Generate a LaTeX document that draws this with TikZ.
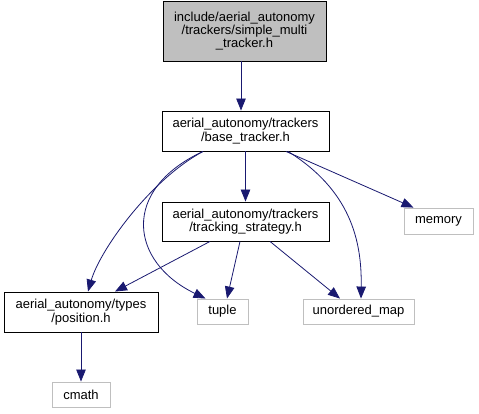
\documentclass[tikz,border=0pt]{standalone}
\usepackage{fontspec}
\setmainfont{Liberation Sans}
\usetikzlibrary{arrows.meta}
\definecolor{edgeblue}{HTML}{191970}
\definecolor{extgray}{HTML}{BFBFBF}
\tikzset{
  box/.style={draw=black, line width=0.9pt, inner sep=0pt, align=center, font=\fontsize{13}{13.3}\selectfont},
  extbox/.style={draw=extgray, line width=0.9pt, inner sep=0pt, align=center, font=\fontsize{13}{13.3}\selectfont},
  dep/.style={draw=edgeblue, line width=0.8pt, -{Triangle[length=12pt,width=9.5pt]}, edgeblue}
}
\begin{document}
\begin{tikzpicture}[x=1pt,y=-1pt]
\useasboundingbox (0,0) rectangle (479,413);
\node[box, fill=extgray, minimum width=163, minimum height=60] (top) at (244.5,31) {include/aerial\_autonomy\\/trackers/simple\_multi\\\_tracker.h};
\node[box, minimum width=167, minimum height=40] (base) at (245.5,131) {aerial\_autonomy/trackers\\/base\_tracker.h};
\node[box, minimum width=167, minimum height=39] (track) at (245.5,221.5) {aerial\_autonomy/trackers\\/tracking\_strategy.h};
\node[extbox, minimum width=69, minimum height=26] (memory) at (438.5,221) {memory};
\node[box, minimum width=154, minimum height=40] (pos) at (81,312) {aerial\_autonomy/types\\/position.h};
\node[extbox, minimum width=51, minimum height=25] (tuple) at (222.5,311.5) {tuple};
\node[extbox, minimum width=111, minimum height=25] (umap) at (358.5,311.5) {unordered\_map};
\node[extbox, minimum width=58, minimum height=25] (cmath) at (81,394.5) {cmath};

\draw[dep] ([xshift=-3.5pt]top.south) -- ([xshift=-4.5pt]base.north);
\draw[dep] (base.south) -- (track.north);
\draw[dep] ([xshift=40.5pt]base.south) -- ([xshift=-25pt]memory.north);
\draw[dep] ([xshift=-42.5pt]base.south) .. controls (150,180) and (100,250) .. ([xshift=7pt]pos.north);
\draw[dep] ([xshift=-42.5pt]base.south) .. controls (120,190) and (130,262) .. ([xshift=-17pt]tuple.north);
\draw[dep] ([xshift=42.5pt]base.south) .. controls (350,190) and (362,240) .. ([xshift=2.5pt]umap.north);
\draw[dep] ([xshift=-35.5pt]track.south) -- ([xshift=34pt]pos.north);
\draw[dep] ([xshift=-5.5pt]track.south) -- ([xshift=4.5pt]tuple.north);
\draw[dep] ([xshift=24.5pt]track.south) -- ([xshift=-18.5pt]umap.north);
\draw[dep] (pos.south) -- (cmath.north);
\end{tikzpicture}
\end{document}
